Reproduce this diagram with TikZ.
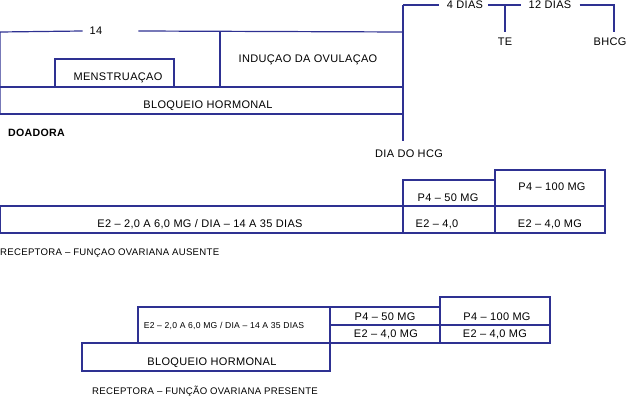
\documentclass[tikz,border=0pt]{standalone}
\usepackage{fontspec}
\setmainfont{Liberation Sans}[LetterSpace=3]
\usepackage{xcolor}
\definecolor{linha}{RGB}{46,49,146}
\tikzset{
  ln/.style={draw=linha, line width=1.2pt},
  txt/.style={inner sep=0pt, text height=7.9pt, text depth=0pt, font=\fontsize{11}{12}\selectfont},
  leg/.style={inner sep=0pt, text height=7pt, text depth=0pt, anchor=west, font=\fontsize{9.6}{12}\selectfont},
  miudo/.style={inner sep=0pt, text height=6.2pt, text depth=0pt, font=\fontsize{8.6}{10}\selectfont},
}

\begin{document}
\begin{tikzpicture}[x=1pt,y=-1pt]
\useasboundingbox (0,0) rectangle (626,398);

\node[txt] (quatorze) at (96,31) {14};
\coordinate (hcgtopo) at (403,5);
\coordinate (hcgbase) at (403,141);
\draw[ln] (0,114) -- (0,32) -- ([xshift=-7pt]quatorze.west);
\draw[ln] ([xshift=36pt]quatorze.east) -- (403,32);
\draw[ln] (220,32) -- (220,87);
\draw[ln] (55,87) |- (174,59) -- (174,87);
\draw[ln] (0,87) -- (403,87);
\draw[ln] (0,114) -- (403,114);
\draw[ln] (hcgtopo) -- (hcgbase);
\node[txt] (menst) at (118,77) {MENSTRUAÇAO};
\node[txt] (inducao) at (308,59) {INDUÇAO DA OVULAÇAO};
\node[txt] (bloqueio) at (208,105) {BLOQUEIO HORMONAL};
\node[txt, anchor=west, font=\fontsize{10.6}{12}\selectfont\bfseries] (doadora) at (8,133) {DOADORA};
\node[txt] (diahcg) at (409,154) {DIA DO HCG};

\node[txt] (quatrodias) at (465,5) {4 DIAS};
\node[txt] (dozedias) at (550,5) {12 DIAS};
\node[txt] (te) at (505,42) {TE};
\node[txt] (bhcg) at (610,42) {BHCG};
\coordinate (cte) at (505,5);
\coordinate (cbhcg) at (614,5);
\draw[ln] (hcgtopo) -- ([xshift=-8pt]quatrodias.west);
\draw[ln] ([xshift=5pt]quatrodias.east) -- ([xshift=-8pt]dozedias.west);
\draw[ln] ([xshift=8pt]dozedias.east) -- (cbhcg) -- ([yshift=6pt]cbhcg |- bhcg.north);
\draw[ln] (cte) -- ([yshift=6pt]te.north);

\draw[ln] (495,170) rectangle (605,206);
\draw[ln] (403,180) rectangle (495,206);
\draw[ln] (0,206) rectangle (605,233);
\draw[ln] (403,206) -- (403,233);
\draw[ln] (495,206) -- (495,233);
\node[txt] (pcem) at (552,187) {P4 – 100 MG};
\node[txt] (pcinq) at (448,198) {P4 – 50 MG};
\node[txt] (edois) at (200,224) {E2 – 2,0 A 6,0 MG / DIA – 14 A 35 DIAS};
\node[txt] (equat) at (437,224) {E2 – 4,0};
\node[txt] (equatmg) at (550,224) {E2 – 4,0 MG};
\node[leg] (ausente) at (0,252) {RECEPTORA – FUNÇAO OVARIANA AUSENTE};

\draw[ln] (138,307) rectangle (330,343);
\draw[ln] (82,343) rectangle (330,371);
\draw[ln] (330,307) rectangle (440,343);
\draw[ln] (440,297) rectangle (550,343);
\draw[ln] (330,325) -- (550,325);
\node[miudo] (edoisp) at (224,325) {E2 – 2,0 A 6,0 MG / DIA – 14 A 35 DIAS};
\node[txt] (bloqueiop) at (212,362) {BLOQUEIO HORMONAL};
\node[txt] (pcinqp) at (385,317) {P4 – 50 MG};
\node[txt] (equatp) at (386,334) {E2 – 4,0 MG};
\node[txt] (pcemp) at (497,317) {P4 – 100 MG};
\node[txt] (equatmgp) at (495,334) {E2 – 4,0 MG};
\node[leg] (presente) at (92,391) {RECEPTORA – FUNÇÃO OVARIANA PRESENTE};
\end{tikzpicture}
\end{document}
